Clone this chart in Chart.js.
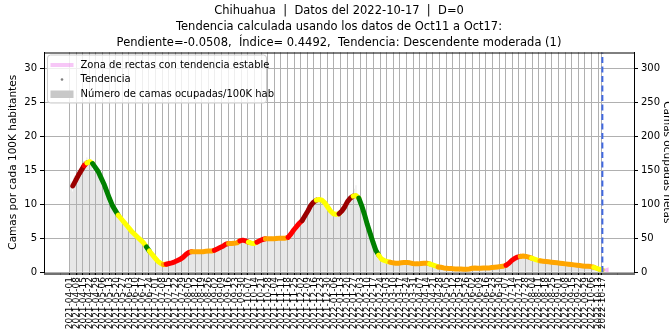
<!DOCTYPE html>
<html>
<head>
<meta charset="utf-8">
<script src="https://cdn.jsdelivr.net/npm/chart.js@4.4.0/dist/chart.umd.min.js"></script>
<style>
  html, body { margin: 0; padding: 0; background: #fff; }
  #wrap { width: 669px; height: 335px; overflow: hidden; }
  canvas { display: block; }
</style>
</head>
<body>
<div id="wrap"><canvas id="chart" width="676" height="335"></canvas></div>
<script>
// Camas ocupadas por 100K habitantes, Chihuahua, serie diaria desde 2021-04-01 (dia 0)
const startDate = Date.UTC(2021, 3, 1);
const dataDay = 564; // 2022-10-17, fecha de corte

const bedsPer100k = [
  12.1,13.4,12.8,11.9,13.9,14.2,13.1,14.8,14.0,15.1,
  14.6,15.3,14.2,15.8,16.4,15.0,16.1,15.5,16.9,15.7,
  16.2,15.4,16.6,15.9,15.1,15.8,14.7,15.3,14.6,14.9,
  14.2,14.6,13.5,13.9,12.8,13.4,12.3,12.7,11.6,12.0,
  11.2,10.5,10.9,10.1,9.6,10.0,9.3,9.5,8.8,9.1,
  8.4,8.7,7.9,8.2,7.6,7.9,7.2,7.6,6.9,7.3,
  6.6,7.0,6.3,6.7,6.0,6.2,5.8,6.1,5.4,5.7,
  5.2,5.5,4.9,5.1,4.6,4.9,4.4,4.6,4.0,4.3,
  3.6,3.9,3.3,3.4,2.9,3.1,2.6,2.8,2.3,2.4,
  2.0,2.1,1.7,1.8,1.5,1.4,1.3,1.2,1.0,1.1,
  1.0,1.2,1.1,1.3,1.2,1.1,1.4,1.3,1.2,1.5,
  1.4,1.6,1.5,1.8,1.7,1.9,1.8,2.1,2.0,2.2,
  2.1,2.5,2.4,2.8,2.7,3.0,2.8,3.1,2.9,3.2,
  2.9,3.1,2.8,3.2,3.0,2.9,3.3,3.0,2.8,3.1,
  3.0,2.9,3.2,3.1,2.8,3.2,3.0,3.3,2.9,3.1,
  3.0,3.3,3.2,3.4,3.3,3.6,3.4,3.7,3.5,3.8,
  3.6,3.9,3.8,4.1,3.9,4.3,4.0,4.4,4.1,4.3,
  4.0,4.4,4.1,4.5,4.2,4.3,4.6,4.1,4.5,4.7,
  4.8,4.5,5.0,4.6,4.4,4.8,4.3,4.6,4.2,4.5,
  4.1,4.4,4.0,4.3,4.2,4.5,4.1,4.6,4.4,4.7,
  4.5,4.8,4.6,5.0,4.7,5.1,4.8,5.0,4.7,5.2,
  4.8,5.1,4.7,5.3,4.9,5.0,4.6,5.2,4.8,5.4,
  4.9,5.2,4.8,5.1,5.0,5.3,4.9,5.2,5.0,5.3,
  5.1,5.4,5.5,5.8,5.7,6.1,6.0,6.4,6.2,6.7,
  6.6,7.1,6.9,7.4,7.3,7.8,7.6,8.1,8.0,8.6,
  8.4,9.0,8.9,9.5,9.4,10.0,9.8,10.4,10.1,10.7,
  10.4,10.9,10.5,11.0,10.6,10.8,10.3,10.7,10.2,10.5,
  9.9,10.2,9.5,9.8,9.1,9.3,8.8,9.0,8.5,8.8,
  8.4,8.6,8.2,8.7,8.5,8.8,8.6,9.1,8.9,9.4,
  9.3,9.9,9.8,10.4,10.3,10.9,10.7,11.4,11.0,11.6,
  11.1,12.3,11.5,12.8,11.2,11.6,10.7,10.9,10.0,9.9,
  9.0,8.9,8.2,8.0,7.3,7.1,6.4,6.0,5.5,5.2,
  4.6,4.2,3.9,3.5,3.1,2.8,2.6,2.4,2.1,2.0,
  1.8,1.9,1.6,1.7,1.5,1.6,1.4,1.6,1.3,1.5,
  1.4,1.2,1.5,1.3,1.2,1.4,1.1,1.4,1.3,1.2,
  1.4,1.3,1.5,1.2,1.4,1.5,1.3,1.6,1.4,1.3,
  1.2,1.4,1.3,1.1,1.3,1.2,1.0,1.3,1.2,1.1,
  1.3,1.2,1.4,1.1,1.3,1.4,1.2,1.4,1.3,1.2,
  1.2,1.1,1.0,1.1,0.9,1.0,0.8,0.9,0.8,0.7,
  0.8,0.7,0.6,0.7,0.6,0.7,0.5,0.6,0.5,0.6,
  0.5,0.4,0.6,0.5,0.4,0.5,0.6,0.4,0.5,0.4,
  0.5,0.4,0.3,0.5,0.4,0.5,0.3,0.4,0.4,0.3,
  0.4,0.5,0.4,0.5,0.6,0.5,0.6,0.7,0.5,0.6,
  0.6,0.5,0.6,0.5,0.6,0.5,0.7,0.6,0.5,0.6,
  0.7,0.6,0.5,0.7,0.6,0.7,0.6,0.7,0.6,0.8,
  0.7,0.8,0.7,0.8,0.7,0.9,0.8,0.9,0.8,1.0,
  0.9,1.1,1.0,1.2,1.3,1.4,1.5,1.7,1.8,1.9,
  2.0,2.1,2.0,2.3,2.2,2.4,2.3,2.5,2.2,2.4,
  2.3,2.5,2.2,2.4,2.1,2.3,2.2,2.1,2.0,2.2,
  1.9,2.0,1.8,1.9,1.7,1.8,1.6,1.7,1.6,1.7,
  1.5,1.7,1.6,1.5,1.6,1.4,1.5,1.6,1.4,1.5,
  1.4,1.5,1.3,1.4,1.5,1.3,1.4,1.2,1.3,1.4,
  1.2,1.3,1.2,1.1,1.3,1.2,1.1,1.2,1.0,1.2,
  1.1,1.0,1.1,1.0,1.1,0.9,1.0,1.1,0.9,1.0,
  0.9,1.0,0.8,0.9,0.9,0.8,0.9,0.8,0.9,0.8,
  0.8,0.9,0.7,0.8,0.7,0.6,0.7,0.6,0.5,0.6,
  0.5,0.4,0.4,0.3,0.3
];

// tendencia suavizada, un punto cada 3 dias desde el dia 3
const trendFirstDay = 3;
const trendStep = 3;
const trendValues = [
  12.7,13.5,14.3,15.0,15.7,16.1,16.3,16.0,15.4,14.8,
  13.9,13.0,11.9,10.8,9.8,9.1,8.4,7.9,7.4,6.9,
  6.4,5.9,5.5,5.1,4.7,4.3,3.7,3.1,2.6,2.1,
  1.6,1.3,1.1,1.15,1.25,1.35,1.5,1.7,1.9,2.2,
  2.6,2.9,3.0,3.0,3.0,3.0,3.0,3.05,3.1,3.1,
  3.2,3.4,3.6,3.8,4.1,4.2,4.2,4.25,4.3,4.6,
  4.7,4.6,4.4,4.25,4.2,4.4,4.6,4.8,4.9,4.9,
  4.9,4.9,4.95,5.0,5.0,5.0,5.1,5.6,6.2,6.7,
  7.2,7.6,8.3,9.0,9.8,10.3,10.6,10.7,10.6,10.2,
  9.6,9.0,8.6,8.5,8.6,9.0,9.6,10.4,10.9,11.2,
  11.3,10.9,9.8,8.5,7.0,5.7,4.4,3.2,2.5,1.9,
  1.7,1.55,1.45,1.35,1.3,1.3,1.35,1.4,1.4,1.35,
  1.25,1.2,1.2,1.25,1.3,1.3,1.2,1.05,0.9,0.75,
  0.7,0.6,0.55,0.5,0.5,0.45,0.45,0.45,0.4,0.4,
  0.45,0.55,0.6,0.55,0.55,0.6,0.6,0.6,0.65,0.7,
  0.75,0.8,0.85,1.0,1.3,1.7,2.0,2.2,2.3,2.35,
  2.3,2.2,2.05,1.9,1.75,1.65,1.6,1.55,1.5,1.45,
  1.4,1.35,1.3,1.25,1.2,1.15,1.1,1.05,1.0,0.95,
  0.9,0.85,0.85,0.8,0.7,0.55,0.4,0.3
];
// D ascendente fuerte, R ascendente moderada, O estable, Y descendente moderada, G descendente fuerte
const trendLevels = (
  'DDDD R YY GGGGGGGGG YYYYYYYYYY G YYYYY O RRRRRRRRR OOOOOOOO RRRRR OOOO RRR YYY RRR ' +
  'OOOOOOOO RRRRR DDDDD YYYYYYYY DDDDD YY GGGGGGG YYYY OOOOOOOOOOOOOO YYY ' +
  'OOOOOOOOOOOOOOOOOOOOOOOO RRRRR OOOO YYY OOOOOOOOOOOOOOOOOOO YYYY'
).replace(/\s/g, '').split('');
const levelColors = { D: '#9b0000', R: '#ff0000', O: '#ffa500', Y: '#ffff00', G: '#008000' };

// abanico de rectas con tendencia estable a partir del ultimo dato
const stableDays = [564, 570, 570, 564];
const stableValues = [0.3, 0.55, 0.05, 0.3];

const yTicks = [0, 5, 10, 15, 20, 25, 30];
const y2Ticks = [0, 50, 100, 150, 200, 250, 300];

const titleLines = [
  'Chihuahua  |  Datos del 2022-10-17  |  D=0',
  'Tendencia calculada usando los datos de Oct11 a Oct17:',
  'Pendiente=-0.0508,  \u00cdndice= 0.4492,  Tendencia: Descendente moderada (1)'
];

const X_MIN = -27, X_MAX = 597, Y_MAX = 32.4, Y2_MAX = 324;

const dayLabel = d => new Date(startDate + d * 86400000).toISOString().slice(0, 10);
const labelDays = new Set();
for (let d = 0; d <= dataDay; d += 7) labelDays.add(d);
labelDays.add(dataDay);
const allDays = [];
for (let d = X_MIN; d <= X_MAX; d++) allDays.push(d);

// weekly ticks carry a label and a grid line, the daily ones only a short mark
const isWeekly = c => !!(c && c.tick && labelDays.has(c.tick.value));

Chart.defaults.font.family = "'DejaVu Sans', sans-serif";
Chart.defaults.color = '#000';

// grid lines go over the bars but under the trend line
const gridOverBars = {
  id: 'gridOverBars',
  beforeDatasetDraw(chart, args) {
    if (args.index !== 1) return;
    chart.scales.x.drawGrid(chart.chartArea);
    chart.scales.y.drawGrid(chart.chartArea);
  }
};

const legendBox = {
  id: 'legendBox',
  afterDraw(chart) {
    const { ctx, chartArea: a } = chart;
    ctx.save();
    ctx.strokeStyle = '#000';
    ctx.lineWidth = 1;
    ctx.beginPath();
    ctx.moveTo(a.left, a.top + 0.5);
    ctx.lineTo(a.right, a.top + 0.5);
    ctx.stroke();

    const x = a.left + 3.5, y = a.top + 2.5;
    ctx.beginPath();
    ctx.roundRect(x, y, 219, 48, 3);
    ctx.fillStyle = 'rgba(255,255,255,0.8)';
    ctx.fill();
    ctx.strokeStyle = '#cccccc';
    ctx.stroke();

    const rows = [a.top + 12.5, a.top + 27, a.top + 41.5];
    ctx.strokeStyle = 'rgba(238,130,238,0.45)';
    ctx.lineWidth = 4;
    ctx.beginPath();
    ctx.moveTo(x + 3, rows[0]);
    ctx.lineTo(x + 26, rows[0]);
    ctx.stroke();

    ctx.fillStyle = '#7f7f7f';
    ctx.beginPath();
    ctx.arc(x + 14.5, rows[1], 1.3, 0, Math.PI * 2);
    ctx.fill();

    ctx.fillStyle = '#c8c8c8';
    ctx.fillRect(x + 3, rows[2] - 3.5, 23, 7.5);

    ctx.fillStyle = '#000';
    ctx.font = "10px 'DejaVu Sans'";
    ctx.textBaseline = 'middle';
    ctx.fillText('Zona de rectas con tendencia estable', x + 33, rows[0]);
    ctx.fillText('Tendencia', x + 33, rows[1]);
    ctx.fillText('N\u00famero de camas ocupadas/100K hab', x + 33, rows[2]);
    ctx.restore();
  }
};

new Chart(document.getElementById('chart'), {
  type: 'bar',
  data: {
    datasets: [
      {
        type: 'bar',
        label: 'N\u00famero de camas ocupadas/100K hab',
        data: bedsPer100k.map((v, i) => ({ x: i, y: v })),
        backgroundColor: '#cdcdcd',
        barPercentage: 0.5,
        categoryPercentage: 1,
        yAxisID: 'y',
        order: 3
      },
      {
        type: 'line',
        label: 'Tendencia',
        data: trendValues.map((v, i) => ({ x: trendFirstDay + i * trendStep, y: v })),
        borderColor: '#7f7f7f',
        borderWidth: 5,
        borderCapStyle: 'round',
        borderJoinStyle: 'round',
        pointRadius: 0,
        segment: { borderColor: ctx => levelColors[trendLevels[ctx.p0DataIndex]] },
        yAxisID: 'y',
        order: 2
      },
      {
        type: 'line',
        label: 'Zona de rectas con tendencia estable',
        data: stableDays.map((d, i) => ({ x: d, y: stableValues[i] })),
        borderColor: 'rgba(238,130,238,0.45)',
        backgroundColor: 'rgba(238,130,238,0.35)',
        borderWidth: 1.5,
        fill: 'shape',
        pointRadius: 0,
        yAxisID: 'y',
        order: 1
      },
      {
        type: 'line',
        label: 'corte',
        data: [{ x: dataDay, y: 0 }, { x: dataDay, y: Y_MAX }],
        borderColor: '#4169e1',
        borderWidth: 2,
        borderDash: [6, 3.5],
        pointRadius: 0,
        yAxisID: 'y',
        order: 0
      }
    ]
  },
  options: {
    responsive: false,
    animation: false,
    devicePixelRatio: 1,
    layout: { padding: 0 },
    plugins: {
      legend: { display: false },
      tooltip: { enabled: false },
      title: {
        display: true,
        fullSize: false,
        text: titleLines,
        color: '#000',
        font: { size: 11.5, weight: 'normal', lineHeight: 1.4 },
        padding: { top: 3, bottom: 1.2 }
      }
    },
    scales: {
      x: {
        type: 'linear',
        position: 'bottom',
        min: X_MIN,
        max: X_MAX,
        afterBuildTicks: s => { s.ticks = allDays.map(v => ({ value: v })); },
        afterFit: s => { s.height = 63; },
        ticks: {
          autoSkip: false,
          minRotation: 90,
          maxRotation: 90,
          padding: 2,
          font: { size: 9 },
          color: '#000',
          callback: v => labelDays.has(v) ? dayLabel(v) : ''
        },
        grid: {
          color: c => isWeekly(c) ? '#b0b0b0' : 'rgba(0,0,0,0)',
          tickColor: c => isWeekly(c) ? '#000' : '#555',
          tickWidth: c => isWeekly(c) ? 1 : 0.6,
          tickLength: 3
        },
        border: { color: '#000', width: 1 }
      },
      y: {
        type: 'linear',
        position: 'left',
        min: 0,
        max: Y_MAX,
        afterBuildTicks: s => { s.ticks = yTicks.map(v => ({ value: v })); },
        afterFit: s => { s.width = 44; },
        ticks: { font: { size: 10 }, color: '#000', padding: 3 },
        grid: { color: '#b0b0b0', tickColor: '#000', tickLength: 4 },
        border: { color: '#000', width: 1 },
        title: {
          display: true,
          text: 'Camas por cada 100K habitantes',
          font: { size: 10.5 },
          color: '#000',
          padding: { top: 7, bottom: 0 }
        }
      },
      y2: {
        type: 'linear',
        position: 'right',
        min: 0,
        max: Y2_MAX,
        afterBuildTicks: s => { s.ticks = y2Ticks.map(v => ({ value: v })); },
        afterFit: s => { s.width = 42; },
        ticks: { font: { size: 10 }, color: '#000', padding: 3 },
        grid: { drawOnChartArea: false, tickColor: '#000', tickLength: 4 },
        border: { color: '#000', width: 1 },
        title: {
          display: true,
          text: 'Camas ocupadas netas',
          font: { size: 10.5 },
          color: '#000',
          padding: { top: 3, bottom: 0 }
        }
      }
    }
  },
  plugins: [gridOverBars, legendBox]
});
</script>
</body>
</html>
